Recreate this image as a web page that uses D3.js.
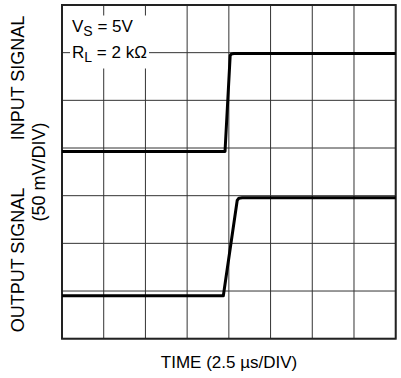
<!DOCTYPE html>
<html><head><meta charset="utf-8">
<script src="https://cdn.jsdelivr.net/npm/d3@7"></script>
<style>body{margin:0;background:#fff}svg{display:block}</style>
</head><body><svg id="c" width="401" height="378"></svg>
<script>
// Data (time in µs, signal in mV; 50 mV/DIV, 2.5 µs/DIV)
const timeTicks = [0, 2.5, 5, 7.5, 10, 12.5, 15, 17.5, 20];
const levelTicks = [0, 50, 100, 150, 200, 250, 300, 350];
const inputTime  = [0, 9.77, 10.08, 10.16, 10.3, 20];
const inputLevel = [196.3, 196.3, 297, 298.7, 299.1, 299.1];
const outputTime  = [0, 9.67, 10.5, 10.6, 10.8, 20];
const outputLevel = [45.1, 45.1, 145, 147.3, 147.9, 147.9];
const annotations = ["V|S| = 5V", "R|L| = 2 kΩ"];
const xLabel = "TIME (2.5 µs/DIV)";
const yLabels = ["INPUT SIGNAL", "(50 mV/DIV)", "OUTPUT SIGNAL"];

const svg = d3.select("#c");
const L = 62, R = 395.7, T = 5, B = 338.7;
const x = d3.scaleLinear().domain([0, 20]).range([L, R]);
const y = d3.scaleLinear().domain([0, 350]).range([B, T]);
const font = "'Liberation Sans', Arial, sans-serif";

// grid
const g = svg.append("g");
g.selectAll("line.v").data(timeTicks).join("line")
  .attr("x1", d => x(d)).attr("x2", d => x(d)).attr("y1", T).attr("y2", B)
  .attr("stroke", "#333").attr("stroke-width", 1);
g.selectAll("line.h").data(levelTicks).join("line")
  .attr("y1", d => y(d)).attr("y2", d => y(d)).attr("x1", L).attr("x2", R)
  .attr("stroke", "#333").attr("stroke-width", 1);

// annotation box (white background)
svg.append("rect").attr("x", 70).attr("y", 15.5).attr("width", 79).attr("height", 53).attr("fill", "#fff");
const ann = svg.append("g").attr("font-family", font).attr("font-size", 17).attr("fill", "#000");
annotations.forEach((a, i) => {
  const parts = a.split("|");
  const t = ann.append("text").attr("x", 72).attr("y", 31.7 + i * 26.6);
  t.append("tspan").text(parts[0]);
  t.append("tspan").attr("font-size", 14).attr("dy", 4).text(parts[1]);
  t.append("tspan").attr("dy", -4).text(parts[2]);
});

// frame
svg.append("rect").attr("x", L).attr("y", T).attr("width", R - L).attr("height", B - T)
  .attr("fill", "none").attr("stroke", "#222").attr("stroke-width", 2);

// traces
const line = d3.line().x(d => x(d[0])).y(d => y(d[1]));
[[inputTime, inputLevel], [outputTime, outputLevel]].forEach(([ts, vs]) => {
  svg.append("path").datum(ts.map((t, i) => [t, vs[i]]))
    .attr("d", line).attr("fill", "none").attr("stroke", "#000")
    .attr("stroke-width", 3).attr("stroke-linejoin", "round");
});

// axis labels
svg.append("text").attr("x", 229).attr("y", 368).attr("text-anchor", "middle")
  .attr("font-family", font).attr("font-size", 17).text(xLabel);
const yl = [[24, 78], [45, 172], [24, 260]];
yLabels.forEach((s, i) => {
  svg.append("text").attr("transform", `translate(${yl[i][0]},${yl[i][1]}) rotate(-90)`)
    .attr("text-anchor", "middle").attr("font-family", font).attr("font-size", 18).text(s);
});
</script></body></html>
